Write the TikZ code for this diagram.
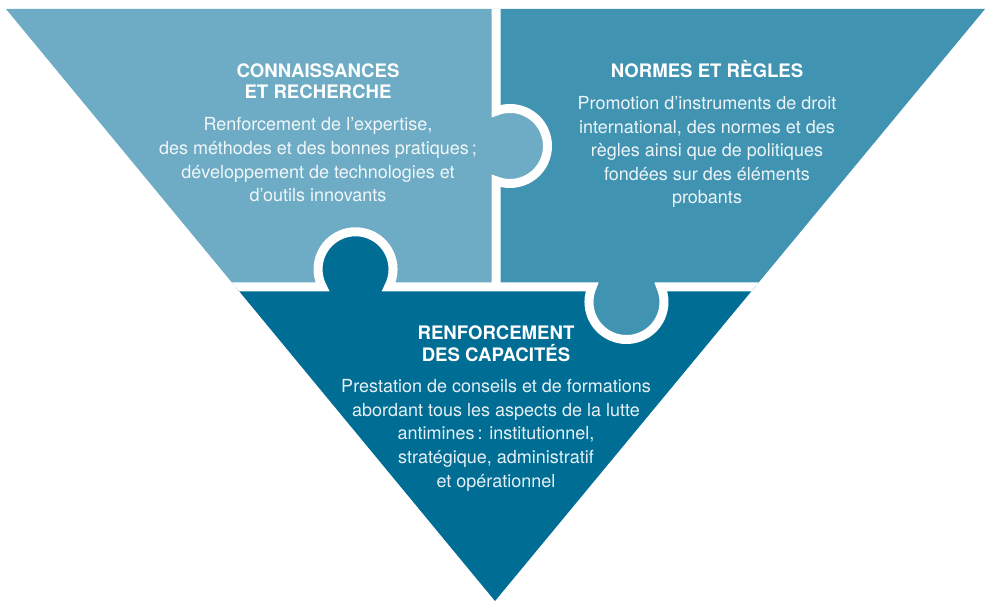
\documentclass[tikz,border=0pt]{standalone}
\usepackage{fontspec}
\setmainfont{TeX Gyre Heros}
\definecolor{pLight}{HTML}{6DACC4}
\definecolor{pMid}{HTML}{4193B2}
\definecolor{pDark}{HTML}{006D95}
\begin{document}
\begin{tikzpicture}[x=1pt,y=-1pt,
  head/.style={font=\bfseries\fontsize{18.6}{21}\selectfont, text=white, anchor=base, inner sep=0pt},
  body/.style={font=\fontsize{18}{24}\selectfont, text=white, text opacity=0.9, anchor=base, inner sep=0pt},
  gap/.style={draw=white, line width=9pt}]
\useasboundingbox (0,0) rectangle (990,601);
\begin{scope}
  \clip (6,9) -- (985,9) -- (495,601) -- cycle;
  \fill[pLight] (0,0) rectangle (496,287);
  \fill[pMid] (496,0) rectangle (990,287);
  \fill[pDark] (0,287) rectangle (990,601);
  \fill[pDark] (355.5,269.5) circle[radius=37.5];
  \fill[pLight] (510,146) circle[radius=37.5];
  \fill[pMid] (626.5,302) circle[radius=37.5];
  % white gaps
  \draw[gap] (0,287) -- (322.5,287)
     arc[start angle=151.8, end angle=388.2, radius=37.5]
     -- (592.1,287)
     arc[start angle=203.6, end angle=-23.6, radius=37.5]
     -- (990,287);
  \draw[gap] (496,0) -- (496,111.2)
     arc[start angle=248.1, end angle=471.9, radius=37.5]
     -- (496,287);
\end{scope}
% left texts
\node[head] (lh1) at (318,78) {CONNAISSANCES};
\node[head] (lh2) at (318,99) {ET RECHERCHE};
\node[body] (lb1) at (318,131) {Renforcement de l’expertise,};
\node[body] (lb2) at (318,155) {des méthodes et des bonnes pratiques\,;};
\node[body] (lb3) at (318,178.5) {développement de technologies et};
\node[body] (lb4) at (318,202) {d’outils innovants};
% right texts
\node[head] (rh1) at (707,78) {NORMES ET RÈGLES};
\node[body] (rb1) at (707,110) {Promotion d’instruments de droit};
\node[body] (rb2) at (707,133.5) {international, des normes et des};
\node[body] (rb3) at (707,157) {règles ainsi que de politiques};
\node[body] (rb4) at (707,180.5) {fondées sur des éléments};
\node[body] (rb5) at (707,204) {probants};
% bottom texts
\node[head] (bh1) at (496,340) {RENFORCEMENT};
\node[head] (bh2) at (496,361) {DES CAPACITÉS};
\node[body] (bb1) at (496,392) {Prestation de conseils et de formations};
\node[body] (bb2) at (496,416) {abordant tous les aspects de la lutte};
\node[body] (bb3) at (496,439.5) {antimines\,: institutionnel,};
\node[body] (bb4) at (496,463) {stratégique, administratif};
\node[body] (bb5) at (496,487) {et opérationnel};
\end{tikzpicture}
\end{document}
